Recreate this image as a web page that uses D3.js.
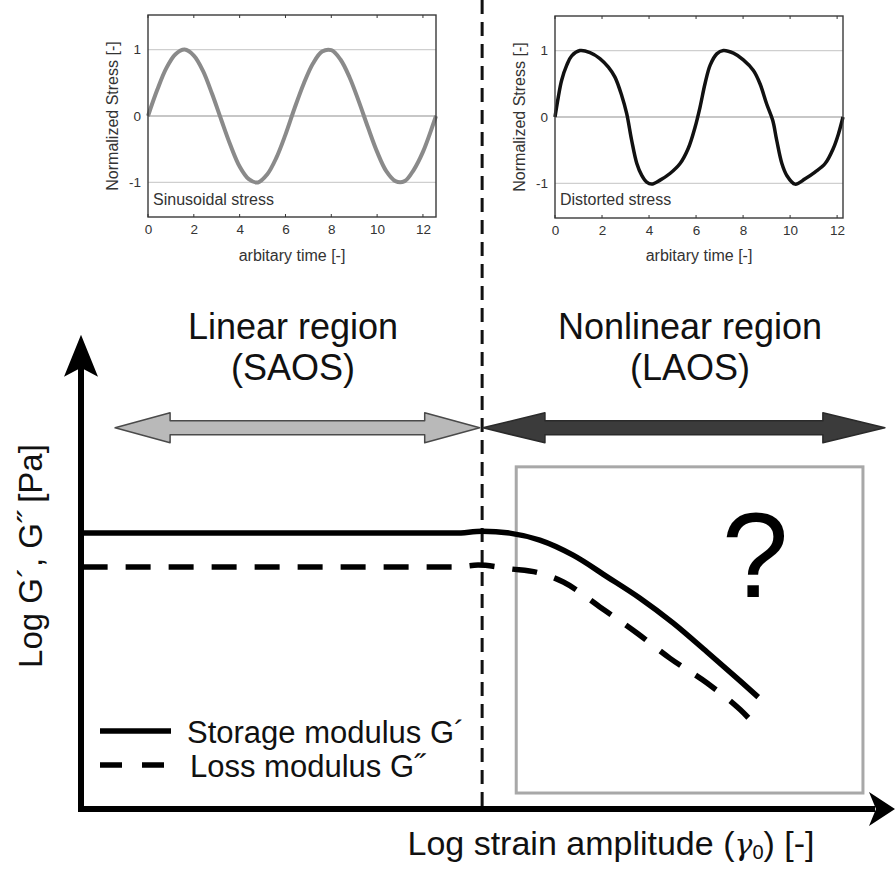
<!DOCTYPE html>
<html><head><meta charset="utf-8">
<script src="https://cdn.jsdelivr.net/npm/d3@7"></script>
<style>
html,body{margin:0;padding:0;background:#fff;}
svg{display:block;}
text{font-family:"Liberation Sans",Arial,sans-serif;}
</style></head>
<body>
<svg id="chart" width="896" height="877"></svg>
<script>
// ---------------- DATA ----------------
// inset tick labels
const insetXTicks = [0, 2, 4, 6, 8, 10, 12];
const insetYTicks = [-1, 0, 1];

// left inset: sinusoidal stress
const sinTime   = [0, 0.4, 0.8, 1.2, 1.6, 2.0, 2.4, 2.8, 3.2, 3.6, 4.0, 4.4, 4.8, 5.2, 5.6, 6.0, 6.4, 6.8, 7.2, 7.6, 8.0, 8.4, 8.8, 9.2, 9.6, 10.0, 10.4, 10.8, 11.2, 11.6, 12.0, 12.4, 12.57];
const sinStress = [0, 0.39, 0.72, 0.93, 1.0, 0.91, 0.68, 0.33, -0.06, -0.44, -0.76, -0.95, -1.0, -0.88, -0.63, -0.28, 0.12, 0.49, 0.79, 0.97, 0.99, 0.85, 0.58, 0.22, -0.17, -0.54, -0.83, -0.98, -0.98, -0.81, -0.54, -0.17, 0];

// right inset: distorted stress
const distTime   = [0, 0.14, 0.28, 0.5, 0.71, 1.06, 1.49, 1.91, 2.27, 2.55, 2.84, 3.05, 3.26, 3.48, 3.69, 3.9, 4.11, 4.47, 4.89, 5.32, 5.67, 5.96, 6.17, 6.38, 6.6, 6.88, 7.16, 7.59, 8.01, 8.44, 8.72, 9.0, 9.26, 9.43, 9.65, 9.86, 10.21, 10.64, 11.06, 11.49, 11.84, 12.06, 12.25];
const distStress = [0, 0.3, 0.55, 0.78, 0.92, 1.0, 0.97, 0.88, 0.75, 0.6, 0.32, 0.05, -0.35, -0.7, -0.88, -0.98, -1.01, -0.95, -0.85, -0.7, -0.47, -0.15, 0.15, 0.5, 0.78, 0.95, 1.0, 0.96, 0.86, 0.7, 0.5, 0.2, -0.05, -0.35, -0.7, -0.88, -1.01, -0.93, -0.83, -0.7, -0.47, -0.25, 0];

// main chart (arbitrary log units)
const storageStrain  = [0.02, 4.61, 4.94, 5.28, 5.65, 6.06, 6.48, 6.88, 7.29, 7.71, 8.12, 8.34];
const storageModulus = [5.87, 5.87, 5.91, 5.87, 5.72, 5.40, 4.94, 4.49, 3.96, 3.34, 2.72, 2.38];
const lossStrain     = [0.02, 4.61, 4.89, 5.28, 5.65, 5.94, 6.39, 6.85, 7.25, 7.71, 8.12, 8.34];
const lossModulus    = [5.15, 5.15, 5.19, 5.11, 5.02, 4.83, 4.30, 3.74, 3.21, 2.68, 2.11, 1.72];

// region boundaries / annotations (log units)
const criticalStrain = [4.94];               // vertical dashed divider
const linearRange    = [0.42, 4.91];         // gray double arrow
const nonlinearRange = [4.95, 9.90];         // dark double arrow
const arrowLevel     = [8.11];
const boxStrain      = [5.36, 9.63];
const boxModulus     = [0.34, 7.28];
const axisMax        = [10.09, 10.0];        // y tip, x tip

const regionLabels = [["Linear region", "(SAOS)"], ["Nonlinear region", "(LAOS)"]];
const legendLabels = ["Storage modulus G\u00B4", "Loss modulus G\u02DD"];

// ---------------- DRAW ----------------
const svg = d3.select("#chart");

// ---- insets ----
function inset(xr, yr, domX, T, V, color, width, caption, labelX) {
  const x = d3.scaleLinear([0, domX], xr);
  const y = d3.scaleLinear([-1.52, 1.52], yr);
  const g = svg.append("g");
  // grid
  g.selectAll("line.grid").data(insetYTicks).join("line")
    .attr("x1", xr[0]).attr("x2", xr[1])
    .attr("y1", d => y(d)).attr("y2", d => y(d))
    .attr("stroke", d => d === 0 ? "#8f8f8f" : "#cfcfcf").attr("stroke-width", 1.2);
  // curve
  const pts = T.map((t, i) => [t, V[i]]);
  g.append("path").datum(pts)
    .attr("d", d3.line().x(d => x(d[0])).y(d => y(d[1])).curve(d3.curveCatmullRom.alpha(0.5)))
    .attr("fill", "none").attr("stroke", color).attr("stroke-width", width).attr("stroke-linejoin", "round");
  // frame
  g.append("rect").attr("x", xr[0]).attr("y", yr[1]).attr("width", xr[1] - xr[0]).attr("height", yr[0] - yr[1])
    .attr("fill", "none").attr("stroke", "#3a3a3a").attr("stroke-width", 1.4);
  // axes via d3
  const xa = d3.axisBottom(x).tickValues(insetXTicks).tickSize(0).tickPadding(7).tickFormat(d => String(d));
  const ga = g.append("g").attr("transform", `translate(0,${yr[0]})`).call(xa);
  ga.select(".domain").remove();
  ga.selectAll("text").attr("font-size", 13.5).attr("fill", "#333").attr("font-family", "Liberation Sans, Arial, sans-serif");
  const ya = d3.axisLeft(y).tickValues(insetYTicks).tickSize(0).tickPadding(7).tickFormat(d => String(d));
  const gy = g.append("g").attr("transform", `translate(${xr[0]},0)`).call(ya);
  gy.select(".domain").remove();
  gy.selectAll("text").attr("font-size", 13.5).attr("fill", "#333").attr("font-family", "Liberation Sans, Arial, sans-serif");
  // inner ticks
  insetXTicks.forEach(t => {
    g.append("line").attr("x1", x(t)).attr("x2", x(t)).attr("y1", yr[0]).attr("y2", yr[0] - 3).attr("stroke", "#333");
    g.append("line").attr("x1", x(t)).attr("x2", x(t)).attr("y1", yr[1]).attr("y2", yr[1] + 3).attr("stroke", "#333");
  });
  // labels
  g.append("text").attr("x", (xr[0] + xr[1]) / 2).attr("y", 261).attr("text-anchor", "middle")
    .attr("font-size", 16).attr("fill", "#333").text("arbitary time [-]");
  g.append("text").attr("transform", `translate(${labelX},${(yr[0] + yr[1]) / 2}) rotate(-90)`)
    .attr("text-anchor", "middle").attr("font-size", 16).attr("fill", "#333").text("Normalized Stress [-]");
  g.append("text").attr("x", xr[0] + 5).attr("y", 205).attr("font-size", 16).attr("fill", "#333").text(caption);
}
inset([148, 436], [217, 15], 12.57, sinTime, sinStress, "#8a8a8a", 4, "Sinusoidal stress", 118);
inset([555, 843], [218, 16], 12.25, distTime, distStress, "#111", 3.5, "Distorted stress", 525);

// ---- main chart ----
const xM = d3.scaleLinear([0, 10], [81, 893]);
const yM = d3.scaleLinear([0, 10], [809, 339]);

// vertical dashed divider
svg.append("line").attr("x1", xM(criticalStrain[0])).attr("x2", xM(criticalStrain[0]))
  .attr("y1", 0).attr("y2", yM(0))
  .attr("stroke", "#111").attr("stroke-width", 3).attr("stroke-dasharray", "14,8");

// gray box
svg.append("rect").attr("x", xM(boxStrain[0])).attr("y", yM(boxModulus[1]))
  .attr("width", xM(boxStrain[1]) - xM(boxStrain[0])).attr("height", yM(boxModulus[0]) - yM(boxModulus[1]))
  .attr("fill", "none").attr("stroke", "#a8a8a8").attr("stroke-width", 3);

// double arrows
function dblArrow(x0, x1, yc, headLen, headH, shaftH, fill, stroke) {
  const p = d3.path();
  p.moveTo(x0, yc);
  p.lineTo(x0 + headLen, yc - headH);
  p.lineTo(x0 + headLen, yc - shaftH);
  p.lineTo(x1 - headLen, yc - shaftH);
  p.lineTo(x1 - headLen, yc - headH);
  p.lineTo(x1, yc);
  p.lineTo(x1 - headLen, yc + headH);
  p.lineTo(x1 - headLen, yc + shaftH);
  p.lineTo(x0 + headLen, yc + shaftH);
  p.lineTo(x0 + headLen, yc + headH);
  p.closePath();
  svg.append("path").attr("d", p.toString()).attr("fill", fill).attr("stroke", stroke).attr("stroke-width", 1.5).attr("stroke-linejoin", "round");
}
dblArrow(xM(linearRange[0]), xM(linearRange[1]), yM(arrowLevel[0]), 55, 15, 7, "#b9b9b9", "#4a4a4a");
dblArrow(xM(nonlinearRange[0]), xM(nonlinearRange[1]), yM(arrowLevel[0]), 62, 15, 7, "#3b3b3b", "#2a2a2a");

// moduli curves
const line = d3.line().x(d => xM(d[0])).y(d => yM(d[1])).curve(d3.curveMonotoneX);
svg.append("path").datum(storageStrain.map((s, i) => [s, storageModulus[i]]))
  .attr("d", line).attr("fill", "none").attr("stroke", "#000").attr("stroke-width", 5.5);
svg.append("path").datum(lossStrain.map((s, i) => [s, lossModulus[i]]))
  .attr("d", line).attr("fill", "none").attr("stroke", "#000").attr("stroke-width", 5.5)
  .attr("stroke-dasharray", "25,18");

// axes
svg.append("line").attr("x1", xM(0)).attr("x2", xM(0)).attr("y1", yM(0) + 3).attr("y2", yM(axisMax[0]) + 20)
  .attr("stroke", "#000").attr("stroke-width", 6);
svg.append("line").attr("x1", xM(0) - 3).attr("x2", xM(axisMax[1]) - 18).attr("y1", yM(0)).attr("y2", yM(0))
  .attr("stroke", "#000").attr("stroke-width", 6);
// arrowheads
{
  const tx = xM(0), ty = yM(axisMax[0]);
  svg.append("path").attr("d", `M${tx},${ty} L${tx + 17},${ty + 42} L${tx},${ty + 33} L${tx - 17},${ty + 42} Z`).attr("fill", "#000");
  const ux = xM(axisMax[1]) + 2, uy = yM(0);
  svg.append("path").attr("d", `M${ux},${uy} L${ux - 26},${uy + 17} L${ux - 19},${uy} L${ux - 26},${uy - 17} Z`).attr("fill", "#000");
}

// region labels
const regionX = [293, 690];
regionLabels.forEach((lbl, i) => {
  svg.append("text").attr("x", regionX[i]).attr("y", 339).attr("text-anchor", "middle")
    .attr("font-size", 36).attr("fill", "#111").text(lbl[0]);
  svg.append("text").attr("x", regionX[i]).attr("y", 380).attr("text-anchor", "middle")
    .attr("font-size", 36).attr("fill", "#111").text(lbl[1]);
});

// question mark
svg.append("text").attr("x", 755).attr("y", 597).attr("text-anchor", "middle")
  .attr("font-size", 120).attr("fill", "#000").text("?");

// axis titles
svg.append("text").attr("transform", "translate(42,556) rotate(-90)").attr("text-anchor", "middle")
  .attr("font-size", 33).attr("fill", "#111").text("Log G\u00B4, G\u02DD [Pa]");
{
  const t = svg.append("text").attr("x", 611).attr("y", 855).attr("text-anchor", "middle")
    .attr("font-size", 34).attr("fill", "#111");
  t.append("tspan").text("Log strain amplitude (");
  t.append("tspan").attr("font-family", "DejaVu Serif, serif").attr("font-style", "italic").attr("font-size", 30).text("\u03B3");
  t.append("tspan").attr("font-size", 20).attr("dy", 4).text("0");
  t.append("tspan").attr("dy", -4).text(") [-]");
}

// legend
const legY = [731, 765];
[0, 1].forEach(i => {
  svg.append("line").attr("x1", 100).attr("x2", 171).attr("y1", legY[i]).attr("y2", legY[i])
    .attr("stroke", "#000").attr("stroke-width", 5.5).attr("stroke-dasharray", i ? "22,20" : null);
  svg.append("text").attr("x", i ? 190 : 187).attr("y", legY[i] + 12).attr("font-size", 31).attr("fill", "#111")
    .text(legendLabels[i]);
});
</script>
</body></html>
